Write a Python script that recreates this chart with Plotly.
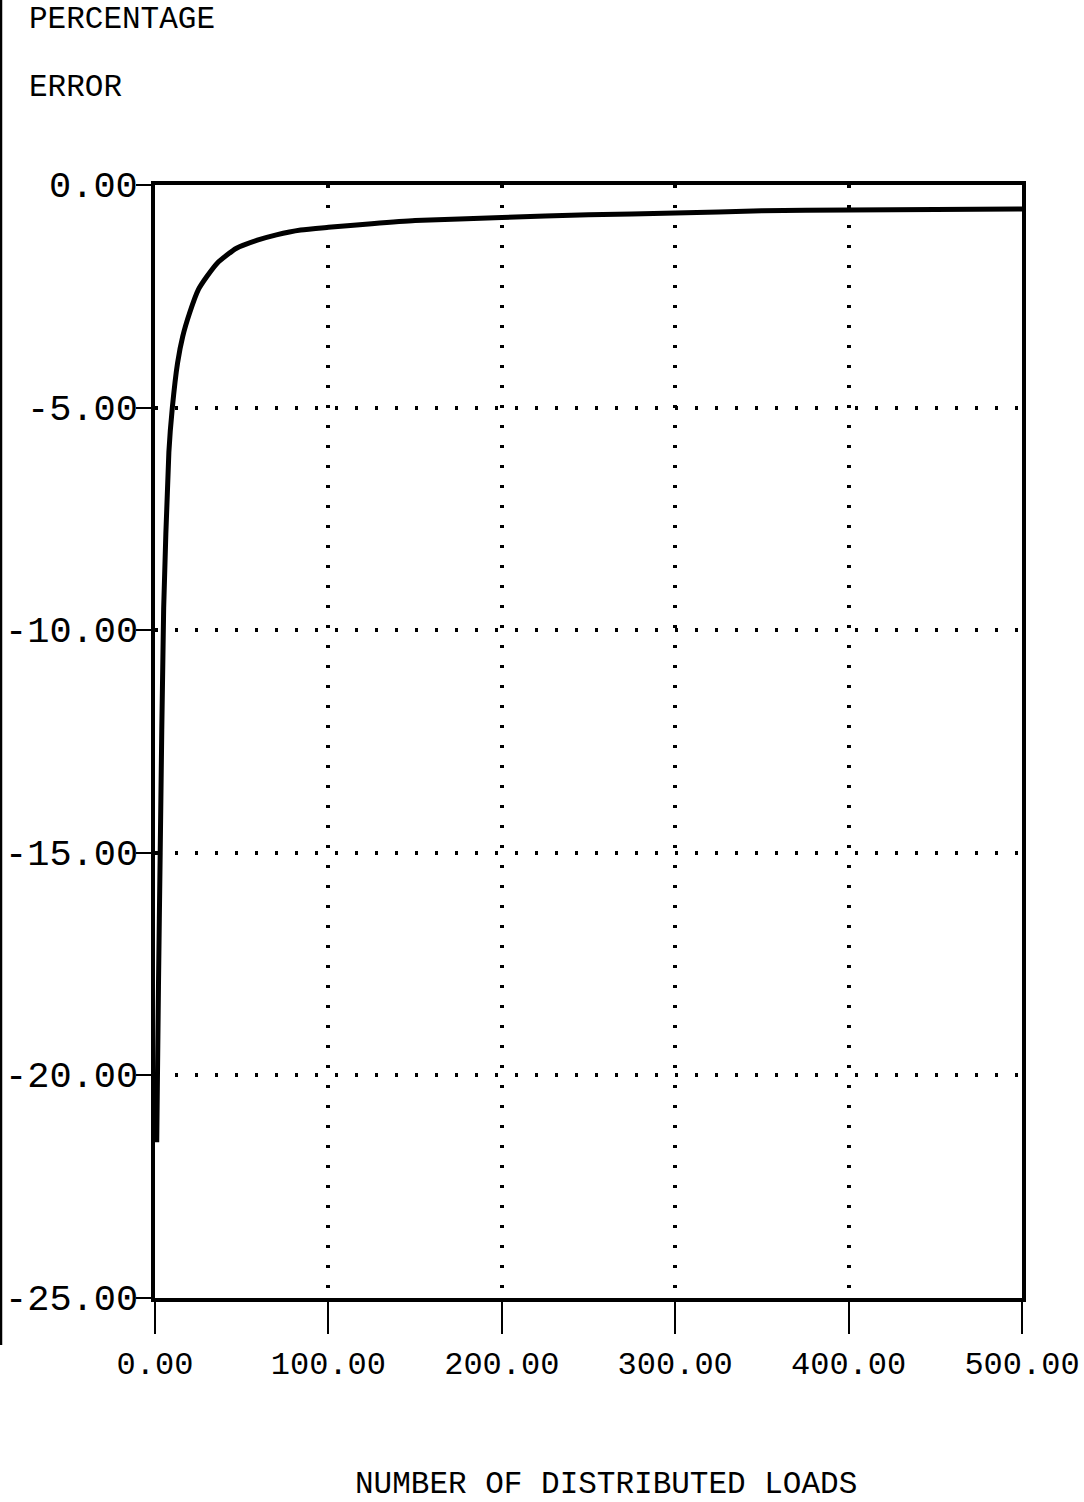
import plotly.graph_objects as go

n_loads = [1, 2, 3, 5, 8, 10, 13, 16, 20, 25, 30, 36, 47, 59, 70, 84, 100, 125, 150, 200, 250, 300, 350, 400, 450, 500]
pct_error = [-21.5, -18.0, -15.0, -9.5, -6.0, -5.0, -4.0, -3.4, -2.87, -2.35, -2.05, -1.75, -1.42, -1.24, -1.12,
             -1.01, -0.95, -0.87, -0.80, -0.73, -0.67, -0.63, -0.58, -0.56, -0.55, -0.54]

x_ticks = [0, 100, 200, 300, 400, 500]
x_labels = ["0.00", "100.00", "200.00", "300.00", "400.00", "500.00"]
y_ticks = [0, -5, -10, -15, -20, -25]
y_labels = ["0.00", "-5.00", "-10.00", "-15.00", "-20.00", "-25.00"]

FONT = "Courier New, Liberation Mono, monospace"

L, R, T, B = 155, 62, 185, 204
W, H = 1084, 1502
PW, PH = W - L - R, H - T - B

def px(x):
    return (x - L) / PW

def py(y):
    return (H - B - y) / PH

fig = go.Figure()
fig.add_trace(go.Scatter(x=n_loads, y=pct_error, mode="lines",
                         line=dict(color="black", width=5, shape="spline", smoothing=0.6),
                         showlegend=False, hoverinfo="skip"))

fig.update_layout(
    width=W, height=H,
    margin=dict(l=L, r=R, t=T, b=B, autoexpand=False),
    paper_bgcolor="white", plot_bgcolor="white",
    font=dict(family=FONT, color="black"),
    xaxis=dict(range=[0, 500], tickvals=x_ticks, ticktext=x_labels, automargin=False,
               showline=True, linecolor="black", linewidth=4, mirror=True,
               ticks="outside", ticklen=32, tickwidth=2, tickcolor="black",
               tickfont=dict(size=32, family=FONT), ticklabelstandoff=2,
               showgrid=True, gridcolor="black", gridwidth=3.5, griddash="3px,17px",
               zeroline=False),
    yaxis=dict(range=[-25, 0], tickvals=y_ticks, showticklabels=False, automargin=False,
               showline=True, linecolor="black", linewidth=4, mirror=True,
               ticks="outside", ticklen=15, tickwidth=2, tickcolor="black",
               showgrid=True, gridcolor="black", gridwidth=3.5, griddash="3px,17px",
               zeroline=False),
)

# y tick labels placed tight against the tick marks
for v, lab in zip(y_ticks, y_labels):
    fig.add_annotation(text=lab, xref="paper", yref="y", x=px(140), y=v, yshift=-2,
                       xanchor="right", yanchor="middle", showarrow=False,
                       font=dict(size=37, family=FONT, color="black"))

fig.add_annotation(text="PERCENTAGE", xref="paper", yref="paper", x=px(27), y=py(20),
                   xanchor="left", yanchor="middle", showarrow=False,
                   font=dict(size=31, family=FONT, color="black"))
fig.add_annotation(text="ERROR", xref="paper", yref="paper", x=px(27), y=py(88),
                   xanchor="left", yanchor="middle", showarrow=False,
                   font=dict(size=31, family=FONT, color="black"))
fig.add_annotation(text="NUMBER OF DISTRIBUTED LOADS", xref="paper", yref="paper", x=px(606),
                   y=py(1484), xanchor="center", yanchor="middle", showarrow=False,
                   font=dict(size=31, family=FONT, color="black"))

# scan edge line at left
fig.add_shape(type="line", xref="paper", yref="paper", x0=px(1), x1=px(1),
              y0=py(0), y1=py(1345), line=dict(color="black", width=2.5))

fig.write_html("out.html", config={"displayModeBar": False},
               post_script="document.body.style.margin='0';document.body.style.padding='0';")
